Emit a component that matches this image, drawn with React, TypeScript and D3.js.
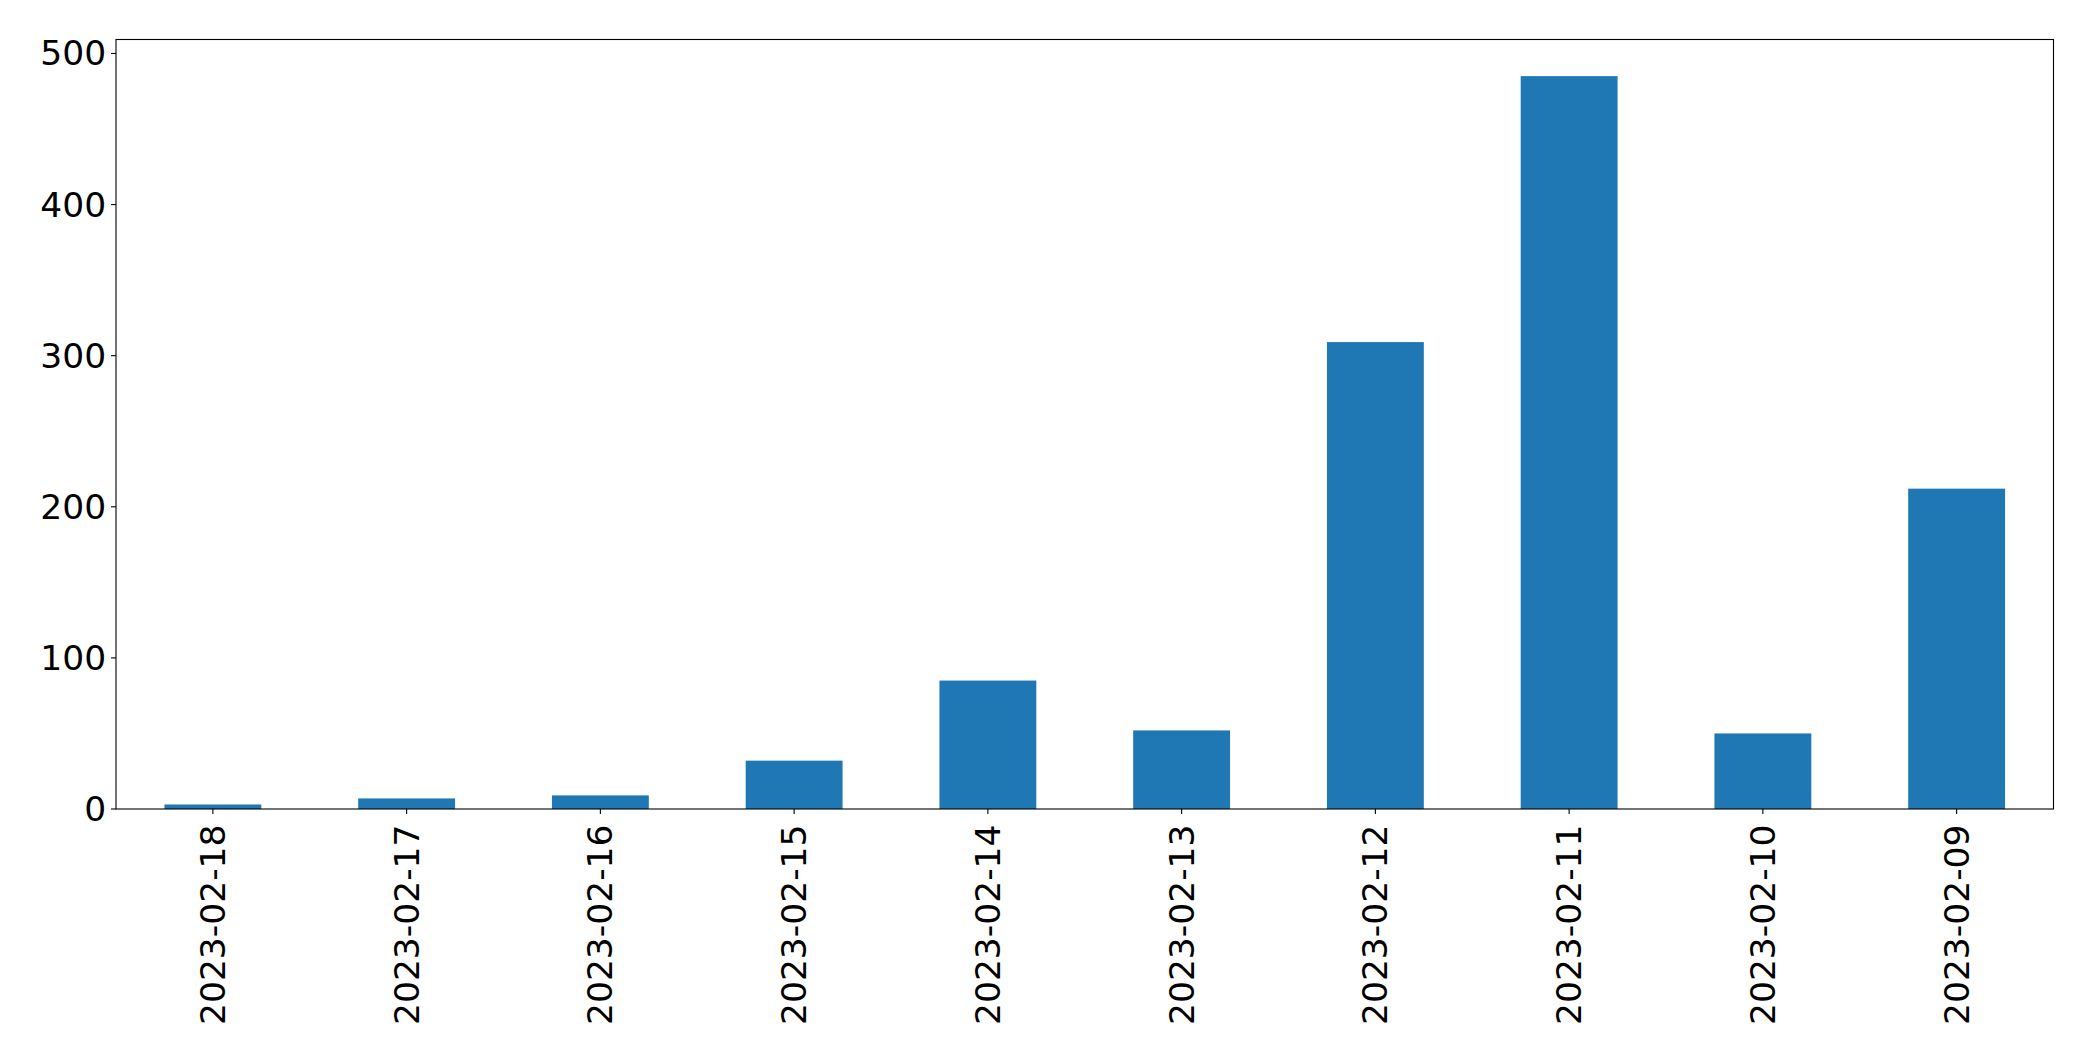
import React from "react";
import * as d3 from "d3";

const categories = [
  "2023-02-18", "2023-02-17", "2023-02-16", "2023-02-15", "2023-02-14",
  "2023-02-13", "2023-02-12", "2023-02-11", "2023-02-10", "2023-02-09",
];
const values = [3, 7, 9, 32, 85, 52, 309, 485, 50, 212];
const yTicks = [0, 100, 200, 300, 400, 500];

const W = 2093;
const H = 1061;
const margin = { left: 116, right: 2053.5, top: 39.5, bottom: 809 };
const FONT = "'DejaVu Sans', sans-serif";
const FS = 34.5;
const TICK = 5;
const PAD = 4.9;
const XPAD = 10.5;

export default function App() {
  const yMax = d3.max(values)! * 1.05;
  const x = d3
    .scaleLinear()
    .domain([-0.5, categories.length - 0.5])
    .range([margin.left, margin.right]);
  const y = d3.scaleLinear().domain([0, yMax]).range([margin.bottom, margin.top]);
  const bw = x(0.25) - x(-0.25);

  return (
    <svg
      width={W}
      height={H}
      style={{ position: "absolute", left: 0, top: 0, background: "#fff" }}
    >
      <rect x={0} y={0} width={W} height={H} fill="#fff" />
      {values.map((v, i) => (
        <rect
          key={categories[i]}
          x={x(i) - bw / 2}
          y={y(v)}
          width={bw}
          height={y(0) - y(v)}
          fill="#1f77b4"
        />
      ))}
      <rect
        x={margin.left}
        y={margin.top}
        width={margin.right - margin.left}
        height={margin.bottom - margin.top}
        fill="none"
        stroke="#000"
        strokeWidth={1.1}
      />
      {yTicks.map((t) => (
        <g key={t}>
          <line
            x1={margin.left - TICK}
            x2={margin.left}
            y1={y(t)}
            y2={y(t)}
            stroke="#000"
            strokeWidth={1.1}
          />
          <text
            x={margin.left - TICK - PAD}
            y={y(t)}
            textAnchor="end"
            dominantBaseline="central"
            fontFamily={FONT}
            fontSize={FS}
            fill="#000"
          >
            {t}
          </text>
        </g>
      ))}
      {categories.map((c, i) => (
        <g key={c}>
          <line
            x1={x(i)}
            x2={x(i)}
            y1={margin.bottom}
            y2={margin.bottom + TICK}
            stroke="#000"
            strokeWidth={1.1}
          />
          <text
            transform={`translate(${x(i)},${margin.bottom + TICK + XPAD}) rotate(-90)`}
            textAnchor="end"
            dominantBaseline="central"
            fontFamily={FONT}
            fontSize={FS}
            fill="#000"
          >
            {c}
          </text>
        </g>
      ))}
    </svg>
  );
}
